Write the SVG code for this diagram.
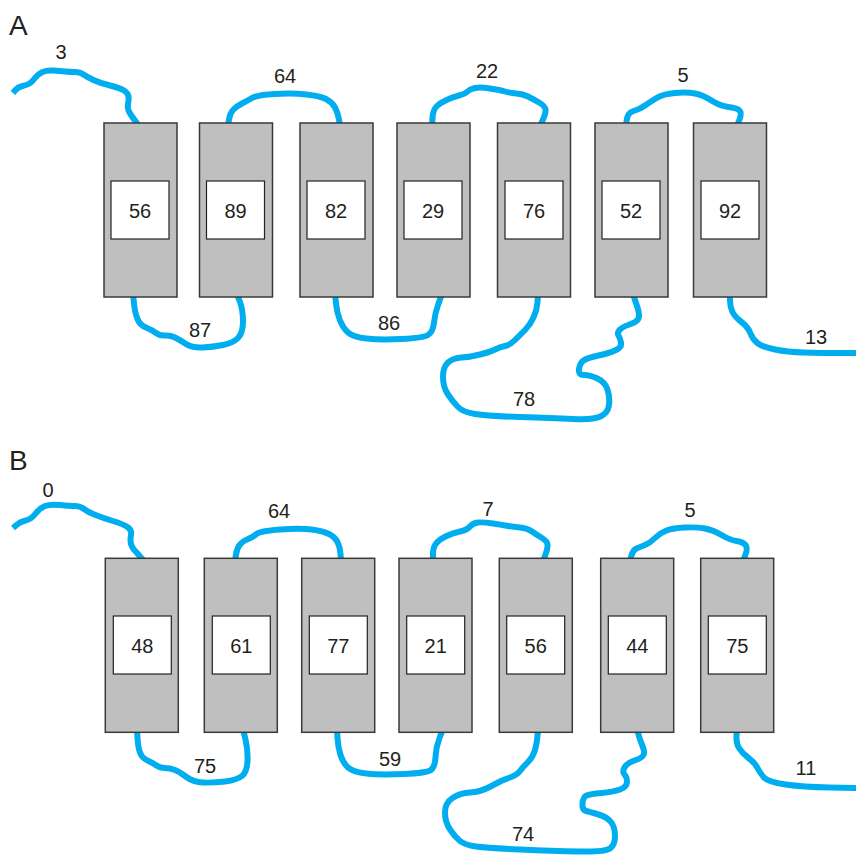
<svg xmlns="http://www.w3.org/2000/svg" width="856" height="855" viewBox="0 0 856 855">
<style>
.c{fill:none;stroke:#00aeef;stroke-width:6;stroke-linecap:butt;stroke-linejoin:round}
.b{fill:#bfbfbf;stroke:#3a3a3a;stroke-width:1.5}
.i{fill:#fff;stroke:#222;stroke-width:1.2}
text{font-family:"Liberation Sans",Arial,sans-serif;fill:#231f20}
.n{font-size:20px;text-anchor:middle}
.p{font-size:28px}
</style>
<rect width="856" height="855" fill="#fff"/>
<text class="p" x="9" y="35">A</text>
<text class="p" x="9" y="470">B</text>
<g id="connectors">
<path class="c" d="M 13,93 L 15.5,90 Q 18,87 22.5,86 Q 27,85 29.5,83.5 Q 32,82 35,78 Q 38,74 42.5,72 Q 47,70 53.5,70.5 Q 60,71 65,71.5 Q 70,72 75,72 Q 80,72 83.5,74.5 Q 87,77 93.5,80 Q 100,83 110,85.5 Q 120,88 124,90.5 Q 128,93 128.5,96.5 Q 129,100 128,104 Q 127,108 129.5,112.5 Q 132,117 135,120.5 L 140,127"/>
<path class="c" d="M 228,126 L 229,119.5 Q 230,113 233.5,109.5 Q 237,106 242,103.5 Q 247,101 252,98 Q 257,95 275,94 Q 293,93 306.5,94.5 Q 320,96 326,99 Q 332,102 335,107.5 Q 338,113 339,119.5 L 340,126"/>
<path class="c" d="M 432,126 L 432.5,118 Q 433,110 436.5,106.5 Q 440,103 446.5,100 Q 453,97 459,95.5 Q 465,94 467.5,91.5 Q 470,89 475,88 Q 480,87 490,88.5 Q 500,90 505,91.5 Q 510,93 516.5,93.5 Q 523,94 528,96.5 Q 533,99 539,102.5 Q 545,106 545.5,109.5 Q 546,113 543,119.5 L 540,126"/>
<path class="c" d="M 626,126 L 626.5,121.5 Q 627,117 628.5,114.5 Q 630,112 635,110.5 Q 640,109 645,105.5 Q 650,102 656.5,98 Q 663,94 675,93 Q 687,92 695,93.5 Q 703,95 711.5,100.5 Q 720,106 728.5,107 Q 737,108 739.5,110.5 Q 742,113 739.5,119.5 L 737,126"/>
<path class="c" d="M 133,294 L 134,303.5 Q 135,313 137.5,319 Q 140,325 146,327.5 Q 152,330 156,333 Q 160,336 165,335.5 Q 170,335 175,337.5 Q 180,340 186,344 Q 192,348 202.5,347.5 Q 213,347 223,345 Q 233,343 238,338 Q 243,333 243,321.5 Q 243,310 240,302 L 237,294"/>
<path class="c" d="M 335,294 L 336,303.5 Q 337,313 340,320.5 Q 343,328 348,332.5 Q 353,337 366.5,338.5 Q 380,340 401.5,339 Q 423,338 428,335 Q 433,332 434,322.5 Q 435,313 438.5,303.5 L 442,294"/>
<path class="c" d="M 538,294 L 537.5,302 Q 537,310 533.5,317.5 Q 530,325 525,330 Q 520,335 515,340 Q 510,345 505,346 Q 500,347 495,349.5 Q 490,352 480,354.5 Q 470,357 461.5,357.5 Q 453,358 448,362.5 Q 443,367 443,377 Q 443,387 448,394.5 Q 453,402 458,407 Q 463,412 475,414 Q 487,416 520,417 Q 553,418 573,419 Q 593,420 600.5,416.5 Q 608,413 609,405 Q 610,397 607.5,389.5 Q 605,382 597.5,378.5 Q 590,375 584,375 Q 578,375 579,369 Q 580,363 583.5,360.5 Q 587,358 598.5,355.5 Q 610,353 616,350 Q 622,347 621,342.5 Q 620,338 618.5,335.5 Q 617,333 619.5,330 Q 622,327 629.5,324.5 Q 637,322 638.5,318.5 Q 640,315 637.5,307.5 L 633,294"/>
<path class="c" d="M 730,294 L 730,300.5 Q 730,307 732.5,312 Q 735,317 741.5,322 Q 748,327 750.5,333.5 Q 753,340 758,343.5 Q 763,347 775,349.5 Q 787,352 803.5,352.5 Q 820,353 838,353 L 858,353"/>
<path class="c" d="M 13,528 L 16.5,525 Q 20,522 24,521 Q 28,520 30.5,518.5 Q 33,517 36.5,512.5 Q 40,508 45,506 Q 50,504 60,505 Q 70,506 75,506 Q 80,506 84,509 Q 88,512 95.5,515 Q 103,518 113,521 Q 123,524 127.5,527 Q 132,530 131,535 Q 130,540 131,544 Q 132,548 137,553 L 144,561"/>
<path class="c" d="M 235,561 L 236,554.5 Q 237,548 240,544.5 Q 243,541 248,539 Q 253,537 256.5,534 Q 260,531 280,529.5 Q 300,528 311.5,529.5 Q 323,531 329,534 Q 335,537 337.5,542 Q 340,547 340.5,554 L 341,561"/>
<path class="c" d="M 433,561 L 433,554 Q 433,547 436.5,543 Q 440,539 446.5,536 Q 453,533 460,531.5 Q 467,530 470,526.5 Q 473,523 478,522.5 Q 483,522 493,523.5 Q 503,525 508,526 Q 513,527 520,527.5 Q 527,528 532,531.5 Q 537,535 542,538 Q 547,541 547.5,544.5 Q 548,548 545.5,554.5 L 543,561"/>
<path class="c" d="M 630,561 L 631.5,555.5 Q 633,550 636.5,548.5 Q 640,547 645,545 Q 650,543 655,538 Q 660,533 666.5,530.5 Q 673,528 685,527.5 Q 697,527 705,528.5 Q 713,530 721.5,535 Q 730,540 736.5,541 Q 743,542 745.5,545 Q 748,548 745.5,554.5 L 743,561"/>
<path class="c" d="M 137,729 L 137.5,738 Q 138,747 140,752.5 Q 142,758 147.5,760.5 Q 153,763 156.5,765.5 Q 160,768 165,768 Q 170,768 175,770 Q 180,772 186.5,777 Q 193,782 203,782.5 Q 213,783 225,781.5 Q 237,780 242,776 Q 247,772 247.5,761 Q 248,750 245.5,739.5 L 243,729"/>
<path class="c" d="M 337,729 L 337.5,738 Q 338,747 340.5,755 Q 343,763 348,767.5 Q 353,772 366.5,773.5 Q 380,775 403.5,774 Q 427,773 431,770 Q 435,767 435.5,757 Q 436,747 439.5,738 L 443,729"/>
<path class="c" d="M 538,729 L 537.5,736 Q 537,743 535,750 Q 533,757 528,762 Q 523,767 520,771 Q 517,775 510,777.5 Q 503,780 500,781.5 Q 497,783 488.5,787.5 Q 480,792 470,792.5 Q 460,793 452.5,798 Q 445,803 445,812.5 Q 445,822 450,829.5 Q 455,837 460,841 Q 465,845 476,846.5 Q 487,848 520,849.5 Q 553,851 579,851.5 Q 605,852 610,848.5 Q 615,845 615,836 Q 615,827 611,822 Q 607,817 598.5,814.5 Q 590,812 586,811 Q 582,810 582.5,803.5 Q 583,797 586.5,795.5 Q 590,794 601.5,793 Q 613,792 620,789.5 Q 627,787 627,782 Q 627,777 624.5,774.5 Q 622,772 624.5,767.5 Q 627,763 634.5,760.5 Q 642,758 643.5,755 Q 645,752 642.5,746 Q 640,740 638.5,734.5 L 637,729"/>
<path class="c" d="M 737,729 L 736.5,736 Q 736,743 739,748 Q 742,753 748.5,758 Q 755,763 757.5,768 Q 760,773 764,777.5 Q 768,782 785.5,784.5 Q 803,787 829.5,787.5 L 858,788"/>
</g>
<g id="loop-labels">
<text class="n" x="61" y="59">3</text>
<text class="n" x="285" y="83">64</text>
<text class="n" x="487" y="78">22</text>
<text class="n" x="683" y="82">5</text>
<text class="n" x="200" y="337">87</text>
<text class="n" x="389" y="330">86</text>
<text class="n" x="524" y="406">78</text>
<text class="n" x="816" y="344">13</text>
<text class="n" x="48" y="497">0</text>
<text class="n" x="279" y="518">64</text>
<text class="n" x="488" y="516">7</text>
<text class="n" x="690" y="517">5</text>
<text class="n" x="205" y="773">75</text>
<text class="n" x="390" y="766">59</text>
<text class="n" x="523" y="841">74</text>
<text class="n" x="806" y="775">11</text>
</g>
<g id="a1"><rect class="b" x="104" y="123" width="73" height="174"/><rect class="i" x="111" y="181" width="58" height="58"/><text class="n" x="140" y="218">56</text></g>
<g id="a2"><rect class="b" x="199.5" y="123" width="73" height="174"/><rect class="i" x="206.5" y="181" width="58" height="58"/><text class="n" x="235.5" y="218">89</text></g>
<g id="a3"><rect class="b" x="300" y="123" width="73" height="174"/><rect class="i" x="307" y="181" width="58" height="58"/><text class="n" x="336" y="218">82</text></g>
<g id="a4"><rect class="b" x="397" y="123" width="73" height="174"/><rect class="i" x="404" y="181" width="58" height="58"/><text class="n" x="433" y="218">29</text></g>
<g id="a5"><rect class="b" x="497.5" y="123" width="73" height="174"/><rect class="i" x="505" y="181" width="58" height="58"/><text class="n" x="534" y="218">76</text></g>
<g id="a6"><rect class="b" x="595" y="123" width="73" height="174"/><rect class="i" x="602" y="181" width="58" height="58"/><text class="n" x="631" y="218">52</text></g>
<g id="a7"><rect class="b" x="693.5" y="123" width="73" height="174"/><rect class="i" x="701" y="181" width="58" height="58"/><text class="n" x="730" y="218">92</text></g>
<g id="b1"><rect class="b" x="105.3" y="558.3" width="73" height="174"/><rect class="i" x="113.3" y="616" width="58" height="58"/><text class="n" x="142.3" y="653">48</text></g>
<g id="b2"><rect class="b" x="204.3" y="558.3" width="73" height="174"/><rect class="i" x="212.3" y="616" width="58" height="58"/><text class="n" x="241.3" y="653">61</text></g>
<g id="b3"><rect class="b" x="301.7" y="558.3" width="73" height="174"/><rect class="i" x="309.3" y="616" width="58" height="58"/><text class="n" x="338.3" y="653">77</text></g>
<g id="b4"><rect class="b" x="399" y="558.3" width="73" height="174"/><rect class="i" x="406.7" y="616" width="58" height="58"/><text class="n" x="435.7" y="653">21</text></g>
<g id="b5"><rect class="b" x="499.3" y="558.3" width="73" height="174"/><rect class="i" x="506.7" y="616" width="58" height="58"/><text class="n" x="535.7" y="653">56</text></g>
<g id="b6"><rect class="b" x="600.7" y="558.3" width="73" height="174"/><rect class="i" x="608.3" y="616" width="58" height="58"/><text class="n" x="637.3" y="653">44</text></g>
<g id="b7"><rect class="b" x="700.7" y="558.3" width="73" height="174"/><rect class="i" x="708.3" y="616" width="58" height="58"/><text class="n" x="737.3" y="653">75</text></g>
</svg>
